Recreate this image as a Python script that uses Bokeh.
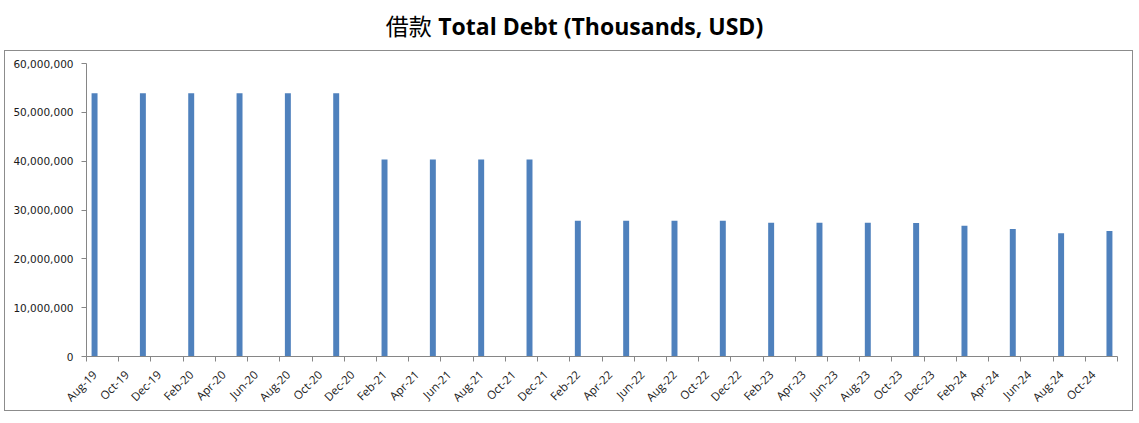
import pandas as pd
from bokeh.plotting import figure
from bokeh.models import (ColumnDataSource, Range1d, FixedTicker, NumeralTickFormatter, Div)
from bokeh.layouts import column
from bokeh.embed import file_html
from bokeh.resources import INLINE
from math import pi

# ---- data ----
axis_start = "Aug-19"
axis_end = "Nov-24"
bar_dates = ["Aug-19", "Nov-19", "Feb-20", "May-20", "Aug-20", "Nov-20",
             "Feb-21", "May-21", "Aug-21", "Nov-21",
             "Feb-22", "May-22", "Aug-22", "Nov-22",
             "Feb-23", "May-23", "Aug-23", "Nov-23",
             "Feb-24", "May-24", "Aug-24", "Nov-24"]
bar_values = [53900000, 53900000, 53900000, 53900000, 53900000, 53900000,
              40350000, 40350000, 40350000, 40350000,
              27800000, 27800000, 27800000, 27800000,
              27400000, 27400000, 27400000, 27350000,
              26750000, 26100000, 25250000, 25700000]
tick_labels = ["Aug-19", "Oct-19", "Dec-19", "Feb-20", "Apr-20", "Jun-20", "Aug-20", "Oct-20",
               "Dec-20", "Feb-21", "Apr-21", "Jun-21", "Aug-21", "Oct-21", "Dec-21", "Feb-22",
               "Apr-22", "Jun-22", "Aug-22", "Oct-22", "Dec-22", "Feb-23", "Apr-23", "Jun-23",
               "Aug-23", "Oct-23", "Dec-23", "Feb-24", "Apr-24", "Jun-24", "Aug-24", "Oct-24"]
y_ticks = [0, 10000000, 20000000, 30000000, 40000000, 50000000, 60000000]
title_zh = "借款"
title_en = "Total Debt (Thousands, USD)"

# ---- month slots ----
def month_index(label):
    d = pd.to_datetime(label, format="%b-%y")
    s = pd.to_datetime(axis_start, format="%b-%y")
    return (d.year - s.year) * 12 + (d.month - s.month)

n_slots = month_index(axis_end) + 1
bar_x = [month_index(d) for d in bar_dates]
tick_x = [month_index(t) for t in tick_labels]
boundaries = [t - 0.5 for t in tick_x] + [n_slots - 0.5]

src = ColumnDataSource(dict(x=bar_x, top=bar_values, date=bar_dates))

W = 1129
p = figure(width=W, height=361, output_backend="svg", toolbar_location=None,
           x_range=Range1d(-0.5, n_slots - 0.5), y_range=Range1d(0, 60000000),
           min_border_left=81, min_border_right=17, min_border_top=12, min_border_bottom=56)
p.vbar(x="x", top="top", width=0.37, bottom=0, source=src,
       fill_color="#4f81bd", line_color=None)

p.outline_line_color = None
p.xgrid.visible = False
p.ygrid.visible = False
p.background_fill_color = "white"
p.border_fill_color = "white"
p.styles = {"border": "1px solid #8c8c8c"}

ax = p.xaxis[0]
ax.ticker = FixedTicker(ticks=tick_x, minor_ticks=boundaries)
ax.major_label_overrides = {t: lab for t, lab in zip(tick_x, tick_labels)}
ax.major_tick_line_color = None
ax.major_tick_in = 0
ax.major_tick_out = 0
ax.minor_tick_line_color = "#868686"
ax.minor_tick_in = 0
ax.minor_tick_out = 5
ax.axis_line_color = "#868686"
ax.major_label_orientation = pi / 4
ax.major_label_text_font = "Open Sans"
ax.major_label_text_font_size = "11.5px"
ax.major_label_text_color = "#1a1a1a"
ax.major_label_standoff = 11

ay = p.yaxis[0]
ay.ticker = FixedTicker(ticks=y_ticks)
ay.formatter = NumeralTickFormatter(format="0,0")
ay.axis_line_color = "#868686"
ay.major_tick_line_color = "#868686"
ay.major_tick_in = 0
ay.major_tick_out = 5
ay.minor_tick_line_color = None
ay.major_label_text_font = "DejaVu Sans"
ay.major_label_text_font_size = "10.5px"
ay.major_label_text_color = "#1a1a1a"
ay.major_label_standoff = 8

title = Div(text=(f'<div style="width:{W + 2}px;text-align:center;line-height:40px;font-size:23px;color:#000">'
                  f'<span style="font-family:\'Noto Sans CJK SC\';font-weight:normal">{title_zh}</span> '
                  f'<span style="font-family:\'Open Sans\';font-weight:bold">{title_en}</span></div>'),
            width=W + 2, height=40)

layout = column(title, p, spacing=0)
layout.styles = {"margin-left": "4px"}

open("out.html", "w").write(file_html(layout, INLINE))
